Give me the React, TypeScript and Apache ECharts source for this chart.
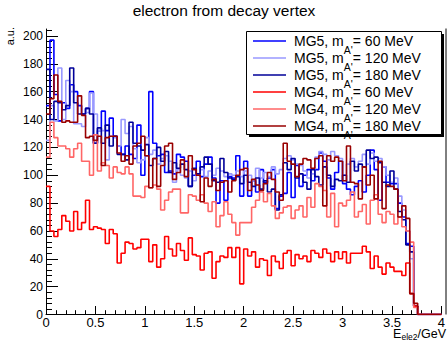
import { useEffect, useRef } from 'react';
import * as echarts from 'echarts';

const FONT = '"Liberation Sans", Arial, Helvetica, sans-serif';

// histogram binning: 100 bins of 0.04 GeV on [0, 4]
const binWidth = 0.04;
const nBins = 100;
const xMin = 0;
const xMax = 4;
const yMax = 205;

const xTickInterval = 0.5;
const yMajorTicks = [0, 20, 40, 60, 80, 100, 120, 140, 160, 180, 200];
const yMinorTicks = Array.from({ length: 52 }, (_, i) => i * 4);

// bin contents (bins 0..93; remaining bins are empty)
const mg5_60 = [
  150, 197, 158, 139, 152, 148, 165, 160, 150, 144,
  148, 160, 123, 132, 146, 132, 141, 128, 121, 115,
  121, 115, 112, 136, 100, 114, 160, 123, 114, 115,
  102, 103, 101, 115, 113, 110, 92, 100, 110, 99,
  108, 113, 98, 80, 96, 82, 99, 98, 114, 85,
  110, 85, 96, 88, 104, 95, 98, 104, 76, 85,
  87, 102, 84, 107, 92, 100, 104, 96, 104, 116,
  110, 98, 90, 102, 110, 94, 90, 86, 92, 96,
  88, 100, 118, 104, 82, 106, 95, 94, 94, 80,
  70, 51, 49, 6,
];
const mg5_120 = [
  125, 150, 139, 177, 140, 168, 160, 137, 137, 135,
  145, 159, 144, 132, 132, 111, 128, 127, 121, 140,
  130, 135, 119, 109, 111, 127, 115, 118, 108, 112,
  114, 110, 95, 104, 100, 98, 103, 96, 101, 104,
  99, 103, 100, 105, 103, 99, 101, 100, 103, 99,
  103, 100, 96, 105, 98, 102, 99, 106, 101, 104,
  112, 114, 111, 108, 107, 103, 98, 101, 113, 117,
  115, 111, 117, 114, 112, 100, 108, 112, 106, 110,
  115, 108, 116, 110, 112, 106, 100, 95, 98, 85,
  75, 60, 40, 6,
];
const mg5_180 = [
  176, 140, 153, 152, 147, 150, 177, 152, 144, 144,
  148, 144, 123, 134, 123, 136, 121, 128, 115, 115,
  111, 138, 123, 121, 118, 122, 107, 112, 120, 110,
  117, 102, 109, 105, 108, 104, 92, 105, 101, 106,
  113, 108, 96, 95, 112, 102, 98, 97, 99, 94,
  100, 95, 92, 98, 90, 96, 88, 90, 75, 86,
  109, 104, 112, 98, 101, 95, 90, 104, 99, 93,
  106, 100, 92, 97, 96, 100, 95, 110, 103, 108,
  106, 118, 112, 113, 109, 95, 92, 103, 90, 74,
  68, 50, 45, 6,
];
const mg4_60 = [
  92, 60, 56, 61, 71, 67, 60, 74, 61, 66,
  82, 61, 63, 62, 61, 51, 61, 58, 37, 44,
  52, 51, 47, 48, 54, 54, 38, 50, 34, 40,
  56, 47, 42, 51, 46, 39, 55, 43, 42, 32,
  44, 45, 26, 38, 42, 41, 48, 41, 48, 22,
  47, 42, 45, 34, 40, 39, 28, 42, 38, 33,
  44, 46, 35, 43, 40, 42, 38, 46, 44, 41,
  47, 44, 38, 45, 40, 45, 37, 44, 44, 44,
  49, 45, 33, 42, 34, 29, 37, 34, 31, 31,
  28, 37, 15, 6,
];
const mg4_120 = [
  113, 138, 127, 121, 121, 119, 113, 119, 123, 110,
  110, 100, 129, 103, 109, 107, 98, 106, 102, 101,
  106, 101, 85, 85, 84, 92, 91, 93, 90, 75,
  82, 88, 90, 90, 73, 73, 86, 85, 82, 86,
  80, 74, 81, 63, 71, 81, 72, 66, 57, 66,
  66, 66, 77, 82, 88, 81, 87, 78, 69, 73,
  77, 78, 69, 75, 78, 70, 84, 77, 94, 92,
  89, 70, 87, 63, 80, 78, 82, 88, 70, 74,
  79, 65, 82, 86, 72, 66, 74, 72, 65, 70,
  63, 60, 52, 5,
];
const mg4_180 = [
  144, 155, 172, 153, 138, 139, 138, 138, 157, 143,
  127, 128, 125, 128, 107, 127, 128, 128, 116, 110,
  114, 108, 121, 123, 128, 114, 91, 112, 92, 107,
  121, 123, 97, 102, 111, 99, 114, 104, 100, 81,
  98, 92, 97, 89, 95, 96, 88, 96, 100, 104,
  105, 89, 97, 93, 89, 94, 102, 97, 88, 82,
  123, 110, 108, 99, 108, 112, 111, 105, 112, 114,
  78, 114, 110, 113, 110, 96, 121, 95, 94, 83,
  106, 93, 100, 83, 110, 76, 93, 92, 90, 70,
  78, 69, 15, 8,
];

const seriesNames = [
  "MG5, m_A'= 60 MeV",
  "MG5, m_A'= 120 MeV",
  "MG5, m_A'= 180 MeV",
  "MG4, m_A'= 60 MeV",
  "MG4, m_A'= 120 MeV",
  "MG4, m_A'= 180 MeV",
];
const legendPrefix = ['MG5, m', 'MG5, m', 'MG5, m', 'MG4, m', 'MG4, m', 'MG4, m'];
const legendSub = "A'";
const legendSuffix = ['= 60 MeV', '= 120 MeV', '= 180 MeV', '= 60 MeV', '= 120 MeV', '= 180 MeV'];
const seriesValues = [mg5_60, mg5_120, mg5_180, mg4_60, mg4_120, mg4_180];
const seriesColors = ['#0000ff', '#9999ff', '#000099', '#ff0000', '#ff6666', '#990000'];

function toSteps(vals: number[]): [number, number][] {
  const pts: [number, number][] = [];
  for (let i = 0; i < nBins; i++) {
    pts.push([+(xMin + i * binWidth).toFixed(2), i < vals.length ? vals[i] : 0]);
  }
  pts.push([xMax, 0]);
  return pts;
}

export default function App() {
  const ref = useRef<HTMLDivElement>(null);
  useEffect(() => {
    if (!ref.current) return;
    const chart = echarts.init(ref.current, null, { renderer: 'svg' });

    // legend drawn as graphic elements (ROOT TLegend look)
    const legendRowY0 = 41;
    const legendRowStep = 17;
    const legendEls: any[] = [
      { type: 'rect', z: 5, shape: { x: 249, y: 34, width: 195, height: 103 }, style: { fill: '#000' } },
      { type: 'rect', z: 6, shape: { x: 246.5, y: 31.5, width: 195, height: 103 }, style: { fill: '#fff', stroke: '#000', lineWidth: 1 } },
    ];
    seriesNames.forEach((_, i) => {
      const y = legendRowY0 + i * legendRowStep;
      legendEls.push({
        type: 'line',
        z: 7,
        shape: { x1: 253, y1: y, x2: 286, y2: y },
        style: { stroke: seriesColors[i], lineWidth: 1.6 },
      });
      legendEls.push({
        type: 'text',
        z: 7,
        x: 294,
        y,
        style: {
          text: `{a|${legendPrefix[i]}}{s|${legendSub}}{a|${legendSuffix[i]}}`,
          align: 'left',
          verticalAlign: 'middle',
          rich: {
            a: { fontFamily: FONT, fontSize: 14, lineHeight: 28, fill: '#000' },
            s: { fontFamily: FONT, fontSize: 10.5, lineHeight: 8, verticalAlign: 'bottom', fill: '#000' },
          },
        },
      });
    });

    const option: any = {
      animation: false,
      backgroundColor: '#ffffff',
      title: {
        text: 'electron from decay vertex',
        left: 'center',
        top: 2,
        padding: [0, 0, 0, 6],
        textStyle: { fontFamily: FONT, fontSize: 15.5, fontWeight: 'normal', color: '#000' },
      },
      grid: { left: 46, right: 2, top: 29, bottom: 26.5, containLabel: false },
      xAxis: {
        type: 'value',
        min: xMin,
        max: xMax,
        interval: xTickInterval,
        axisLine: { show: true, onZero: false, lineStyle: { color: '#000', width: 1 } },
        axisTick: { show: true, inside: true, length: 8.5, lineStyle: { color: '#000', width: 1 } },
        minorTick: { show: true, splitNumber: 5, length: 4.3, lineStyle: { color: '#000', width: 1 } },
        axisLabel: { color: '#000', fontFamily: FONT, fontSize: 13, margin: 1 },
        splitLine: { show: false },
      },
      yAxis: [
        {
          type: 'value',
          min: 0,
          max: yMax,
          interval: 20,
          axisLine: { show: true, onZero: false, lineStyle: { color: '#000', width: 1 } },
          axisTick: { show: true, inside: true, length: 12, customValues: yMajorTicks, lineStyle: { color: '#000', width: 1 } },
          axisLabel: { color: '#000', fontFamily: FONT, fontSize: 12, margin: 3, customValues: yMajorTicks },
          splitLine: { show: false },
        },
        {
          type: 'value',
          min: 0,
          max: yMax,
          interval: 4,
          position: 'left',
          axisLine: { show: false },
          axisTick: { show: true, inside: true, length: 6, customValues: yMinorTicks, lineStyle: { color: '#000', width: 1 } },
          axisLabel: { show: false },
          splitLine: { show: false },
        },
      ],
      graphic: [
        ...legendEls,
        { type: 'line', z: 3, shape: { x1: 446, y1: 28.5, x2: 446, y2: 314.5 }, style: { stroke: '#000', lineWidth: 1 } },
        {
          type: 'text',
          z: 6,
          x: 10,
          y: 27,
          rotation: Math.PI / 2,
          style: { text: 'a.u.', fontFamily: FONT, fontSize: 11, fill: '#000', align: 'right', verticalAlign: 'middle' },
        },
        {
          type: 'text',
          z: 6,
          x: 446,
          y: 334,
          style: {
            text: '{a|E}{s|ele2}{a|/GeV}',
            align: 'right',
            verticalAlign: 'middle',
            rich: {
              a: { fontFamily: FONT, fontSize: 12.5, lineHeight: 14, fill: '#000' },
              s: { fontFamily: FONT, fontSize: 8.5, lineHeight: 6, verticalAlign: 'bottom', fill: '#000' },
            },
          },
        },
      ],
      series: seriesNames.map((name, i) => ({
        type: 'line',
        name,
        step: 'end',
        symbol: 'none',
        showSymbol: false,
        color: seriesColors[i],
        itemStyle: { color: seriesColors[i] },
        lineStyle: { color: seriesColors[i], width: 1.6 },
        z: 2 + i,
        data: toSteps(seriesValues[i]),
      })),
    };
    chart.setOption(option);
    return () => chart.dispose();
  }, []);
  return <div ref={ref} style={{ position: 'fixed', left: 0, top: 0, width: 448, height: 341 }} />;
}
